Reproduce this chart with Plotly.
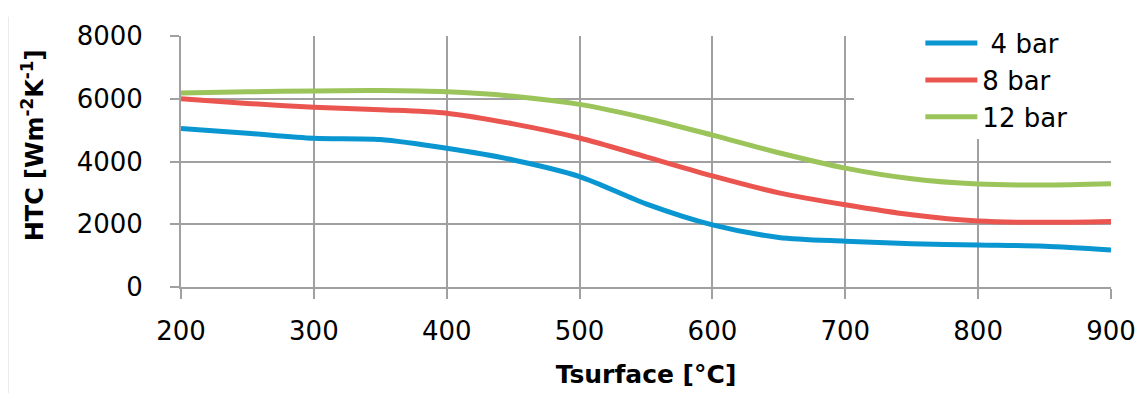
import plotly.graph_objects as go

temps = [200, 250, 300, 350, 400, 450, 500, 550, 600, 650, 700, 750, 800, 850, 900]
htc_4bar = [5050, 4900, 4740, 4700, 4420, 4050, 3520, 2650, 1980, 1580, 1460, 1380, 1340, 1300, 1180]
htc_8bar = [6000, 5850, 5730, 5650, 5540, 5200, 4750, 4150, 3540, 3000, 2620, 2300, 2100, 2060, 2090]
htc_12bar = [6180, 6220, 6250, 6260, 6220, 6080, 5820, 5380, 4840, 4280, 3790, 3450, 3280, 3250, 3290]
series_names = [" 4 bar", "8 bar", "12 bar"]
x_ticks = [200, 300, 400, 500, 600, 700, 800, 900]
y_ticks = [0, 2000, 4000, 6000, 8000]
colors = ["#0A96D0", "#EB5550", "#9BC45B"]

fig = go.Figure()
for name, vals, c in zip(series_names, [htc_4bar, htc_8bar, htc_12bar], colors):
    fig.add_trace(go.Scatter(x=temps, y=vals, name=name, mode="lines",
                             line=dict(color=c, width=5, shape="spline", smoothing=0.8)))

font_family = "'DejaVu Sans', sans-serif"
fig.update_layout(
    width=1145, height=399,
    margin=dict(l=173, r=42, t=19, b=120),
    paper_bgcolor="white", plot_bgcolor="white",
    font=dict(family=font_family, size=26, color="#000"),
    showlegend=True,
    legend=dict(x=0.795, y=1.065, xanchor="left", yanchor="top",
                bgcolor="rgba(255,255,255,0)", font=dict(size=26, family=font_family),
                tracegroupgap=0, itemwidth=52),
)
fig.update_xaxes(range=[200, 900], tickvals=x_ticks,
                 showgrid=True, gridcolor="#A0A0A0", gridwidth=2,
                 showline=True, linecolor="#A0A0A0", linewidth=2,
                 ticks="outside", ticklen=10, tickcolor="#A0A0A0", tickwidth=2,
                 tickfont=dict(size=26), zeroline=False, ticklabelstandoff=10,
                 title=dict(text="<b>Tsurface [°C]</b>", font=dict(size=25), standoff=20))
fig.update_yaxes(range=[0, 8000], tickvals=y_ticks,
                 showgrid=True, gridcolor="#A0A0A0", gridwidth=2,
                 showline=True, linecolor="#A0A0A0", linewidth=2,
                 ticks="outside", ticklen=9, tickcolor="#A0A0A0", tickwidth=2,
                 tickfont=dict(size=26), zeroline=False, ticklabelstandoff=22)
fig.add_annotation(text="<b>HTC [Wm<sup>-2</sup>K<sup>-1</sup>]</b>", textangle=-90,
                   xref="paper", yref="paper", x=-0.159, y=0.565,
                   xanchor="center", yanchor="middle", showarrow=False,
                   font=dict(size=24, family=font_family, color="#000"))
# white backing behind legend hides gridlines, as in the reference
fig.add_shape(type="rect", xref="paper", yref="paper", x0=0.7237, x1=1.02, y0=0.59, y1=1.05,
              fillcolor="white", line=dict(width=0), layer="above")
fig.add_shape(type="line", xref="paper", yref="paper", x0=-0.186, x1=-0.186, y0=-0.423, y1=1.077,
              line=dict(color="#d9d9d9", width=1))
fig.write_html("out.html")
